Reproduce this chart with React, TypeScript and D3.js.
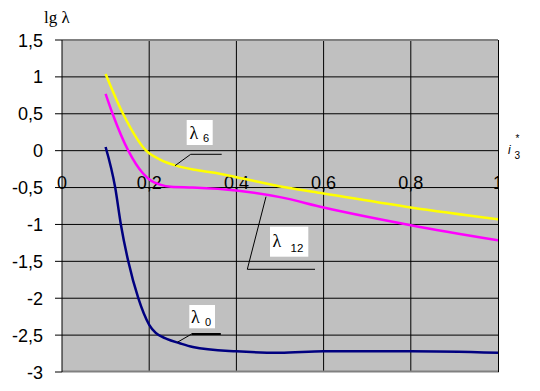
import React from "react";
import * as d3 from "d3";

const xTicks = [0, 0.2, 0.4, 0.6, 0.8, 1];
const xTickLabels = ["0", "0,2", "0,4", "0,6", "0,8", "1"];
const yTicks = [1.5, 1, 0.5, 0, -0.5, -1, -1.5, -2, -2.5, -3];
const yTickLabels = ["1,5", "1", "0,5", "0", "-0,5", "-1", "-1,5", "-2", "-2,5", "-3"];

const x6 = [0.1, 0.14, 0.193, 0.225, 0.26, 0.305, 0.35, 0.4, 0.515, 0.6, 0.8, 1.0];
const lambda6 = [1.04, 0.5, 0, -0.12, -0.2, -0.26, -0.3, -0.36, -0.5, -0.58, -0.77, -0.93];

const x12 = [0.1, 0.116, 0.152, 0.186, 0.205, 0.225, 0.25, 0.3, 0.4, 0.5, 0.6, 0.8, 1.0];
const lambda12 = [0.77, 0.5, 0, -0.31, -0.41, -0.46, -0.49, -0.5, -0.54, -0.63, -0.77, -1.01, -1.215];

const x0 = [0.1, 0.122, 0.135, 0.152, 0.175, 0.2, 0.215, 0.24, 0.27, 0.3, 0.4, 0.5, 0.6, 0.8, 1.0];
const lambda0 = [0.05, -0.5, -1, -1.5, -2, -2.36, -2.47, -2.55, -2.61, -2.66, -2.72, -2.74, -2.72, -2.72, -2.74];

const W = 540, H = 391;
const L = 62, R = 498, T = 40, B = 372;

const SANS = "'Liberation Sans', Arial, sans-serif";
const SERIF = "'Liberation Serif', 'Times New Roman', serif";

export default function App() {
  const xs = d3.scaleLinear().domain([0, 1]).range([L, R]);
  const ys = d3.scaleLinear().domain([-3, 1.5]).range([B, T]);
  const line = (xv: number[], yv: number[]) =>
    d3.line<number>().x((_, i) => xs(xv[i])).y((d) => ys(d)).curve(d3.curveMonotoneX)(yv) || "";

  const series = [
    { xv: x6, yv: lambda6, color: "#FFFF00" },
    { xv: x12, yv: lambda12, color: "#FF00FF" },
    { xv: x0, yv: lambda0, color: "#000080" },
  ];

  return (
    <svg width={W} height={H} style={{ position: "absolute", left: 0, top: 0, background: "#fff" }}>
      <defs>
        <clipPath id="plot">
          <rect x={0} y={T} width={R} height={B - T} />
        </clipPath>
      </defs>
      <rect x={L} y={T} width={R - L} height={B - T} fill="#C0C0C0" />
      {yTicks.slice(1, -1).map((t) => (
        <line key={"h" + t} x1={L} x2={R} y1={ys(t)} y2={ys(t)} stroke="#000" strokeWidth={1} />
      ))}
      {xTicks.slice(1, -1).map((t) => (
        <line key={"v" + t} x1={xs(t)} x2={xs(t)} y1={T} y2={B} stroke="#000" strokeWidth={1} />
      ))}
      <line x1={L} x2={R} y1={T} y2={T} stroke="#808080" strokeWidth={2} />
      <line x1={L} x2={R + 1} y1={B - 0.5} y2={B - 0.5} stroke="#808080" strokeWidth={2} />
      <line x1={R + 0.5} x2={R + 0.5} y1={T} y2={B} stroke="#000" strokeWidth={1} />
      <line x1={L} x2={L} y1={T} y2={B} stroke="#000" strokeWidth={1} />
      {yTicks.map((t) => (
        <line key={"t" + t} x1={L - 7} x2={L} y1={ys(t)} y2={ys(t)} stroke="#000" strokeWidth={1} />
      ))}
      {yTicks.map((t, i) => (
        <text key={"yl" + t} x={43} y={ys(t) + 6.5} textAnchor="end" fontFamily={SANS} fontSize={18}>
          {yTickLabels[i]}
        </text>
      ))}
      <g clipPath="url(#plot)">
        {xTicks.map((t, i) => (
          <text key={"xl" + t} x={xs(t)} y={188.5} textAnchor="middle" fontFamily={SANS} fontSize={18}>
            {xTickLabels[i]}
          </text>
        ))}
        {series.map((s, i) => (
          <path key={i} d={line(s.xv, s.yv)} fill="none" stroke={s.color} strokeWidth={2.5} />
        ))}
      </g>
      <text x={44} y={23} fontFamily={SERIF} fontSize={17}>lg λ</text>
      {/* i3* axis label */}
      <text x={508} y={154} fontFamily={SANS} fontStyle="italic" fontSize={12}>i</text>
      <text x={514.5} y={159} fontFamily={SANS} fontSize={10}>3</text>
      <text x={515.5} y={142} fontFamily={SANS} fontSize={10}>*</text>

      {/* λ6 label */}
      <polyline points="175,165.7 190.7,154.3 221.7,154.3" fill="none" stroke="#000" strokeWidth={1} />
      <rect x={186.7} y={120} width={26} height={25} fill="#fff" />
      <text x={189.5} y={138.5} fontFamily={SERIF} fontSize={18}>λ</text>
      <text x={203} y={141.5} fontFamily={SANS} fontSize={11}>6</text>

      {/* λ12 label */}
      <polyline points="266,196.7 247.3,269.3 315,269.3" fill="none" stroke="#000" strokeWidth={1} />
      <rect x={270} y={226.7} width={38.3} height={30} fill="#fff" />
      <text x={272.5} y={246.8} fontFamily={SERIF} fontSize={18}>λ</text>
      <text x={290.5} y={252} fontFamily={SANS} fontSize={11.5}>12</text>

      {/* λ0 label */}
      <polyline points="177.3,342.3 191.7,334 220.7,334" fill="none" stroke="#000" strokeWidth={1} />
      <line x1={191.7} x2={220.7} y1={334} y2={334} stroke="#000" strokeWidth={2} />
      <rect x={189.3} y={305} width={25.7} height={23.3} fill="#fff" />
      <text x={191} y={322.5} fontFamily={SERIF} fontSize={18}>λ</text>
      <text x={205} y={325.5} fontFamily={SANS} fontSize={11}>0</text>
    </svg>
  );
}
